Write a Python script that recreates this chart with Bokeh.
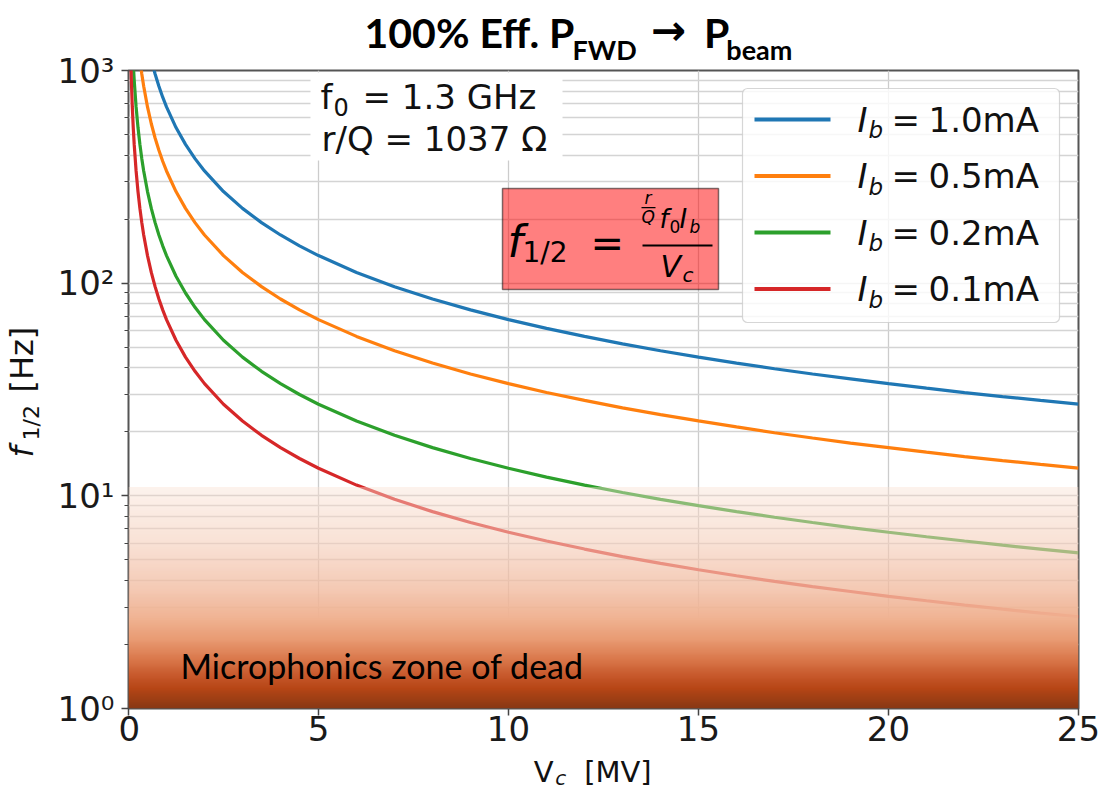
import numpy as np
from bokeh.plotting import figure
from bokeh.layouts import row, column
from bokeh.models import Range1d, FixedTicker, Label, BoxAnnotation
from bokeh.embed import file_html
from bokeh.resources import INLINE

# ---------------- data ----------------
vc_mv = [0.05, 0.075, 0.1, 0.125, 0.15, 0.2, 0.25, 0.3, 0.35, 0.4, 0.5, 0.6, 0.7, 0.8, 0.9,
         1.0, 1.25, 1.5, 1.75, 2.0, 2.5, 3.0, 3.5, 4.0, 4.5, 5, 6, 7, 8, 9, 10, 11, 12, 13,
         14, 15, 16, 17, 18, 19, 20, 21, 22, 23, 24, 25]
f_1p0mA = [13480, 8987, 6740, 5392, 4493, 3370, 2696, 2247, 1926, 1685, 1348, 1123, 963, 842.5,
           748.9, 674, 539.2, 449.3, 385.1, 337, 269.6, 224.7, 192.6, 168.5, 149.8, 134.8, 112.3,
           96.3, 84.25, 74.9, 67.4, 61.3, 56.2, 51.8, 48.1, 44.9, 42.1, 39.6, 37.4, 35.5, 33.7,
           32.1, 30.6, 29.3, 28.1, 27.0]
f_0p5mA = [6740, 4493, 3370, 2696, 2247, 1685, 1348, 1123, 963, 842.5, 674, 561.7, 481.4, 421.3,
           374.4, 337, 269.6, 224.7, 192.6, 168.5, 134.8, 112.3, 96.3, 84.25, 74.9, 67.4, 56.2,
           48.1, 42.1, 37.4, 33.7, 30.6, 28.1, 25.9, 24.1, 22.5, 21.1, 19.8, 18.7, 17.7, 16.85,
           16.05, 15.3, 14.65, 14.05, 13.5]
f_0p2mA = [2696, 1797, 1348, 1078, 898.7, 674, 539.2, 449.3, 385.1, 337, 269.6, 224.7, 192.6,
           168.5, 149.8, 134.8, 107.8, 89.9, 77.0, 67.4, 53.9, 44.9, 38.5, 33.7, 29.96, 26.96,
           22.47, 19.26, 16.85, 14.98, 13.48, 12.25, 11.23, 10.37, 9.63, 8.99, 8.43, 7.93, 7.49,
           7.09, 6.74, 6.42, 6.13, 5.86, 5.62, 5.39]
f_0p1mA = [1348, 898.7, 674, 539.2, 449.3, 337, 269.6, 224.7, 192.6, 168.5, 134.8, 112.3, 96.3,
           84.25, 74.9, 67.4, 53.9, 44.9, 38.5, 33.7, 26.96, 22.47, 19.26, 16.85, 14.98, 13.48,
           11.23, 9.63, 8.43, 7.49, 6.74, 6.13, 5.62, 5.18, 4.81, 4.49, 4.21, 3.96, 3.74, 3.55,
           3.37, 3.21, 3.06, 2.93, 2.81, 2.70]
series_labels = ["1.0mA", "0.5mA", "0.2mA", "0.1mA"]
series_values = [f_1p0mA, f_0p5mA, f_0p2mA, f_0p1mA]
series_colors = ["#1f77b4", "#ff7f0e", "#2ca02c", "#d62728"]

x_ticks = [0, 5, 10, 15, 20, 25]
y_ticks = [1, 10, 100, 1000]
y_minor_ticks = [2, 3, 4, 5, 6, 7, 8, 9, 20, 30, 40, 50, 60, 70, 80, 90,
                 200, 300, 400, 500, 600, 700, 800, 900]
y_tick_labels = ["10⁰", "10¹", "10²", "10³"]
dead_zone_top = 11.0   # Hz, top of the microphonics zone

# ---------------- geometry (page pixels) ----------------
PW, PH = 1100, 789
L = 118                 # width of the left strip (y label + y tick labels)
TOPH = 69               # title strip height
XB = 755                # top of the x-label strip
FL, FR, FT, FB = 128.0, 1078.0, 70.0, 708.0   # main frame edges
RW = PW - L
K = 0.35                # baseline correction (fraction of font size)

y_range = Range1d(1, 1000)


def X(px):
    return (px - FL) / (FR - FL) * 25.0


def Y(py):
    return 10 ** ((FB - py) / (FB - FT) * 3.0)


def bare(fig):
    fig.outline_line_color = None
    fig.background_fill_color = "white"
    fig.border_fill_color = "white"
    return fig


def lab(fig, s, x, y, size, font="DejaVu Sans", style="normal", color="#111111",
        angle=0.0):
    fig.add_layout(Label(x=x, y=y, text=s, text_font=font, text_font_size=f"{size}px",
                         text_font_style=style, text_color=color, angle=angle,
                         text_align="left", text_baseline="alphabetic"))


# ---------------- main plot ----------------
p = figure(width=RW, height=XB - TOPH, y_axis_type="log", output_backend="svg",
           toolbar_location=None, x_range=Range1d(0, 25), y_range=y_range,
           min_border_left=int(FL - L), min_border_right=int(PW - FR),
           min_border_top=int(FT - TOPH), min_border_bottom=int(XB - FB))
p.background_fill_color = "white"
p.border_fill_color = "white"
p.outline_line_color = "#555555"
p.outline_line_width = 2

p.xaxis.ticker = FixedTicker(ticks=x_ticks)
p.yaxis.ticker = FixedTicker(ticks=y_ticks, minor_ticks=y_minor_ticks)
for ax in (p.xaxis, p.yaxis):
    ax.axis_line_color = None
    ax.major_tick_line_color = "#444444"
    ax.major_tick_line_width = 1.5
    ax.major_tick_out = 7
    ax.major_tick_in = 0
p.xaxis.major_label_text_font = "DejaVu Sans"
p.xaxis.major_label_text_font_size = "34px"
p.xaxis.major_label_text_color = "#1a1a1a"
p.xaxis.major_label_standoff = 0
p.xaxis.minor_tick_line_color = None
p.yaxis.major_label_text_font_size = "1px"
p.yaxis.major_label_text_alpha = 0.0
p.yaxis.major_label_standoff = 0
p.yaxis.minor_tick_line_color = "#444444"
p.yaxis.minor_tick_out = 4
p.yaxis.minor_tick_in = 0

p.xgrid.grid_line_color = "#cccccc"
p.xgrid.grid_line_width = 1.3
p.ygrid.grid_line_color = "#cccccc"
p.ygrid.grid_line_width = 1.3
p.ygrid.minor_grid_line_color = "#d4d4d4"
p.ygrid.minor_grid_line_width = 1.3

for vals, col in zip(series_values, series_colors):
    p.line(vc_mv, vals, line_color=col, line_width=3.2)

# dead-zone gradient band, as an RGBA image drawn over the curves
stops_t = [0.0, 0.036, 0.09, 0.15, 0.22, 0.31, 0.40, 0.53, 0.74, 1.0]
stops_r = [138, 155, 183, 200, 218, 233, 240, 244, 249, 253]
stops_g = [56, 62, 70, 90, 120, 155, 178, 200, 225, 243]
stops_b = [20, 20, 22, 45, 75, 115, 145, 178, 213, 237]
stops_a = [1.0, 1.0, 1.0, 1.0, 1.0, 1.0, 1.0, 0.8, 0.6, 0.42]
NR = 240
tc = (np.arange(NR) + 0.5) / NR
A = np.interp(tc, stops_t, stops_a)
img = np.zeros((NR, 2), dtype=np.uint32)
view = img.view(dtype=np.uint8).reshape((NR, 2, 4))
for ch, st in enumerate((stops_r, stops_g, stops_b)):
    comp = np.interp(tc, stops_t, st)
    c = np.clip(255 - (255 - comp) / A, 0, 255)
    view[:, :, ch] = c.astype(np.uint8)[:, None]
view[:, :, 3] = (A * 255).astype(np.uint8)[:, None]
p.image_rgba(image=[img], x=0, y=1, dw=25, dh=dead_zone_top - 1, level="glyph")


def txt(s, px, py, size, **kw):
    # px, py: wanted left / baseline position in page pixels
    lab(p, s, X(px), Y(py - K * size), size, **kw)


def box(x0, x1, y0, y1, fill, falpha=1.0, line=None, lalpha=1.0, lw=1, radius=0):
    p.add_layout(BoxAnnotation(left=X(x0), right=X(x1), top=Y(y0), bottom=Y(y1),
                               fill_color=fill, fill_alpha=falpha, line_color=line,
                               line_alpha=lalpha, line_width=lw, border_radius=radius,
                               level="annotation"))


txt("Microphonics zone of dead", 180, 677, 34, font="Lato", color="#000000")

# parameters box
box(310, 562, 72, 160, "white")
txt("f", 320, 108, 34)
txt("0", 333, 115, 24)
txt("= 1.3 GHz", 362, 108, 34)
txt("r/Q = 1037 Ω", 321, 150, 34)

# formula box
box(502, 718, 188, 289, "#ff0000", 0.5, "#000000", 0.5, 1.5)
txt("f", 507, 256, 44, style="italic", color="#000000")
txt("1/2", 522, 262, 28, color="#000000")
txt("=", 590, 256, 40, color="#000000")
box(642, 712, 244, 246, "#000000")
txt("r", 644, 203.5, 17, style="italic", color="#000000")
box(641, 655, 206.5, 207.7, "#000000")
txt("Q", 641, 222, 17, style="italic", color="#000000")
txt("f", 659, 228, 26, style="italic", color="#000000")
txt("0", 669, 232, 17, color="#000000")
txt("I", 679, 228, 26, style="italic", color="#000000")
txt("b", 689, 232, 17, style="italic", color="#000000")
txt("V", 660, 276, 30, style="italic", color="#000000")
txt("c", 682, 281, 20, style="italic", color="#000000")

# legend
box(742, 1059, 88, 322, "white", 0.8, "#cccccc", 0.8, 1.2, radius=5)
for i, (labtxt, col) in enumerate(zip(series_labels, series_colors)):
    ly = 119 + i * 56.5
    box(754, 830, ly - 2, ly + 2, col)
    txt("I", 857, ly + 12, 34, style="italic")
    txt("b", 868, ly + 19, 23, style="italic")
    txt("=", 891, ly + 12, 34)
    txt(labtxt, 928, ly + 12, 34)

# ---------------- left strip: y tick labels + y label ----------------
LF = 48   # right edge of the left strip's frame
left = bare(figure(width=L, height=PH, y_axis_type="log", output_backend="svg",
                   toolbar_location=None, x_range=Range1d(0, LF), y_range=y_range,
                   x_axis_location=None, y_axis_location="right",
                   min_border_left=0, min_border_right=L - LF,
                   min_border_top=int(FT), min_border_bottom=int(PH - FB)))
left.grid.visible = False
left.yaxis.ticker = FixedTicker(ticks=y_ticks, minor_ticks=[])
left.yaxis.major_label_overrides = {t: s for t, s in zip(y_ticks, y_tick_labels)}
left.yaxis.axis_line_color = None
left.yaxis.major_tick_line_color = None
left.yaxis.minor_tick_line_color = None
left.yaxis.major_tick_out = 0
left.yaxis.major_tick_in = 0
left.yaxis.major_label_standoff = 9
left.yaxis.major_label_text_font = "DejaVu Sans"
left.yaxis.major_label_text_font_size = "34px"
left.yaxis.major_label_text_color = "#1a1a1a"


def ltxt(s, bx, py, size, **kw):
    # rotated text reading upwards; bx = wanted baseline x, py = wanted start y (page px)
    lab(left, s, bx - K * size, Y(py), size, angle=np.pi / 2, **kw)


ltxt("f", 33, 457, 32, style="italic")
ltxt("1/2", 39, 440, 22)
ltxt("[Hz]", 33, 392, 32)

# ---------------- title strip ----------------
title = bare(figure(width=RW, height=TOPH, output_backend="svg", toolbar_location=None,
                    x_range=Range1d(L, PW), y_range=Range1d(TOPH, 0),
                    x_axis_location=None, y_axis_location=None,
                    min_border_left=0, min_border_right=0, min_border_top=0,
                    min_border_bottom=0))
title.grid.visible = False


def ttxt(fig, s, px, py, size, **kw):
    lab(fig, s, px, py - K * size, size, **kw)


ttxt(title, "100% Eff. P", 362, 46, 41, font="Lato", style="bold", color="#000000")
ttxt(title, "FWD", 577, 58, 27, font="Lato", style="bold", color="#000000")
ttxt(title, "→", 658, 45, 42, font="DejaVu Sans", style="bold", color="#000000")
ttxt(title, "P", 713, 46, 41, font="Lato", style="bold", color="#000000")
ttxt(title, "beam", 736, 58, 27, font="Lato", style="bold", color="#000000")

# ---------------- x-label strip ----------------
xlab = bare(figure(width=RW, height=PH - XB, output_backend="svg", toolbar_location=None,
                   x_range=Range1d(L, PW), y_range=Range1d(PH, XB),
                   x_axis_location=None, y_axis_location=None,
                   min_border_left=0, min_border_right=0, min_border_top=0,
                   min_border_bottom=0))
xlab.grid.visible = False
ttxt(xlab, "V", 537, 782, 29)
ttxt(xlab, "c", 559, 784, 20, style="italic")
ttxt(xlab, "[MV]", 589, 782, 29)

layout = row(left, column(title, p, xlab, spacing=0), spacing=0)
open("out.html", "w").write(file_html(layout, INLINE))
